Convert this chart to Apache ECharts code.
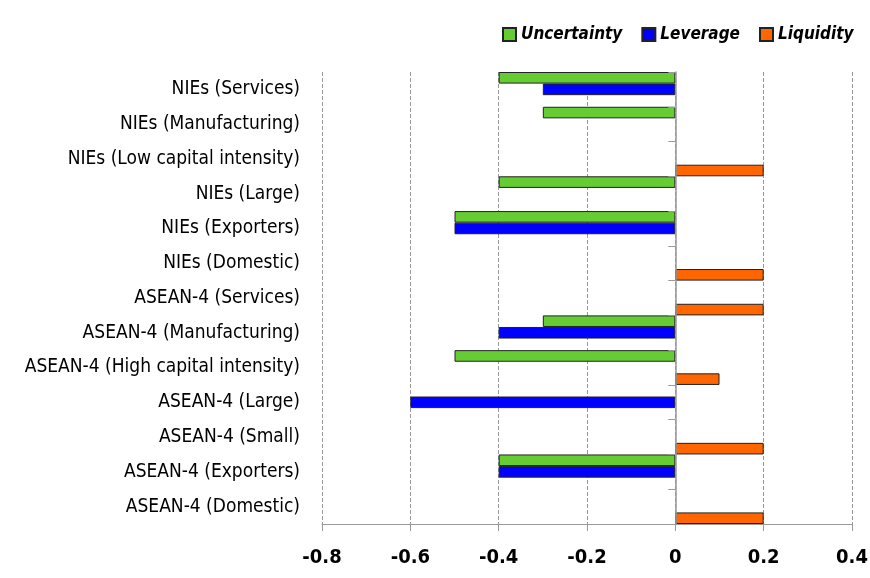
<!DOCTYPE html>
<html><head><meta charset="utf-8">
<script src="https://cdn.jsdelivr.net/npm/echarts@6/dist/echarts.min.js"></script>
<style>html,body{margin:0;padding:0;background:#fff}#c{width:870px;height:578px}</style>
</head><body><div id="c"></div>
<script>
const categories = ["NIEs (Services)","NIEs (Manufacturing)","NIEs (Low capital intensity)","NIEs (Large)","NIEs (Exporters)","NIEs (Domestic)","ASEAN-4 (Services)","ASEAN-4 (Manufacturing)","ASEAN-4 (High capital intensity)","ASEAN-4 (Large)","ASEAN-4 (Small)","ASEAN-4 (Exporters)","ASEAN-4 (Domestic)"];
const uncertainty = [-0.4,-0.3,null,-0.4,-0.5,null,null,-0.3,-0.5,null,null,-0.4,null];
const leverage    = [-0.3,null,null,null,-0.5,null,null,-0.4,null,-0.6,null,-0.4,null];
const liquidity   = [null,null,0.2,null,null,0.2,0.2,null,0.1,null,0.2,null,0.2];
const xTicks = {min:-0.8, max:0.4, interval:0.2};

const FONT = "'DejaVu Sans Condensed','Liberation Sans',sans-serif";
const chart = echarts.init(document.getElementById('c'));
const bar = (name, data, color) => ({
  name, type:'bar', data, yAxisIndex:0, barGap:'0%', barCategoryGap:'0%',
  itemStyle:{color, borderColor:'#222', borderWidth:1}
});
chart.setOption({
  animation:false,
  legend:{
    top:21, left:497, itemWidth:13, itemHeight:13, itemGap:19, icon:'rect',
    textStyle:{fontFamily:FONT, fontSize:17, fontStyle:'italic', fontWeight:'bold', color:'#000'},
    data:['Uncertainty','Leverage','Liquidity']
  },
  grid:{left:322, right:18, top:72, bottom:54, containLabel:false, outerBoundsMode:'none'},
  xAxis:{
    type:'value', min:xTicks.min, max:xTicks.max, interval:xTicks.interval,
    axisLine:{show:true, onZero:false, lineStyle:{color:'#999'}},
    axisTick:{show:true, length:7, lineStyle:{color:'#999'}},
    axisLabel:{fontFamily:FONT, fontSize:20, fontWeight:'bold', color:'#000', margin:24,
      formatter:v=>{const r=Math.round(v*10)/10; return r===0?'0':String(r);}},
    splitLine:{show:true, lineStyle:{color:'#999', type:'dashed'}}
  },
  yAxis:[
    {type:'category', data:categories, inverse:true, z:5,
     axisLine:{show:true, onZero:true, lineStyle:{color:'#999', width:1.5}},
     axisTick:{show:true, length:7, lineStyle:{color:'#999'}},
     axisLabel:{show:false}, splitLine:{show:false}},
    {type:'category', data:categories, inverse:true, position:'left',
     axisLine:{show:false, onZero:false}, axisTick:{show:false},
     axisLabel:{fontFamily:FONT, fontSize:19, color:'#000', margin:22}}
  ],
  series:[
    bar('Uncertainty', uncertainty, '#66CC33'),
    bar('Leverage', leverage, '#0000FF'),
    bar('Liquidity', liquidity, '#FF6600')
  ]
});
</script></body></html>
